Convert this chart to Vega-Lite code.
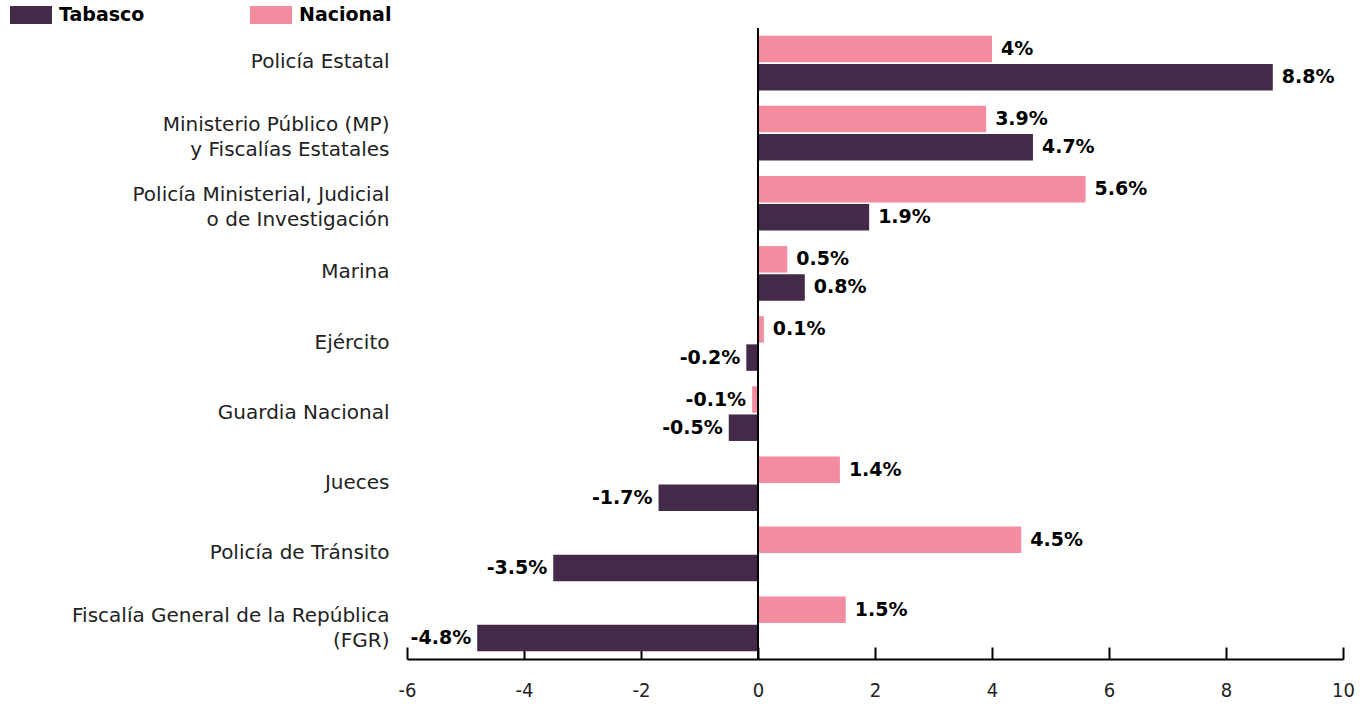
{
  "$schema": "https://vega.github.io/schema/vega-lite/v6.json",
  "width": 936,
  "height": 631,
  "autosize": {"type": "none"},
  "padding": {"left": 407, "top": 28, "right": 28, "bottom": 45},
  "background": "white",
  "config": {"view": {"stroke": null}, "font": "DejaVu Sans"},
  "data": {"values": [
    {"categoria": "Policía Estatal", "serie": "Nacional", "valor": 4},
    {"categoria": "Policía Estatal", "serie": "Tabasco", "valor": 8.8},
    {"categoria": "Ministerio Público (MP)|y Fiscalías Estatales", "serie": "Nacional", "valor": 3.9},
    {"categoria": "Ministerio Público (MP)|y Fiscalías Estatales", "serie": "Tabasco", "valor": 4.7},
    {"categoria": "Policía Ministerial, Judicial|o de Investigación", "serie": "Nacional", "valor": 5.6},
    {"categoria": "Policía Ministerial, Judicial|o de Investigación", "serie": "Tabasco", "valor": 1.9},
    {"categoria": "Marina", "serie": "Nacional", "valor": 0.5},
    {"categoria": "Marina", "serie": "Tabasco", "valor": 0.8},
    {"categoria": "Ejército", "serie": "Nacional", "valor": 0.1},
    {"categoria": "Ejército", "serie": "Tabasco", "valor": -0.2},
    {"categoria": "Guardia Nacional", "serie": "Nacional", "valor": -0.1},
    {"categoria": "Guardia Nacional", "serie": "Tabasco", "valor": -0.5},
    {"categoria": "Jueces", "serie": "Nacional", "valor": 1.4},
    {"categoria": "Jueces", "serie": "Tabasco", "valor": -1.7},
    {"categoria": "Policía de Tránsito", "serie": "Nacional", "valor": 4.5},
    {"categoria": "Policía de Tránsito", "serie": "Tabasco", "valor": -3.5},
    {"categoria": "Fiscalía General de la República|(FGR)", "serie": "Nacional", "valor": 1.5},
    {"categoria": "Fiscalía General de la República|(FGR)", "serie": "Tabasco", "valor": -4.8}
  ]},
  "transform": [{"calculate": "datum.valor + '%'", "as": "etiqueta"}],
  "layer": [
    {
      "mark": {"type": "bar"},
      "encoding": {
        "y": {"field": "categoria", "type": "nominal", "sort": null,
              "scale": {"paddingInner": 0.22, "paddingOuter": 0.11},
              "axis": {"title": null, "domain": false, "ticks": false, "labelPadding": 18,
                       "labelExpr": "split(datum.label, '|')", "labelFontSize": 20,
                       "labelColor": "#222", "labelLineHeight": 25, "labelLimit": 0,
                       "labelOffset": {"condition": {"test": "indexof(datum.value, '|') >= 0", "value": -8}, "value": -1}}},
        "yOffset": {"field": "serie", "sort": ["Nacional", "Tabasco"], "scale": {"paddingInner": 0.06}},
        "x": {"field": "valor", "type": "quantitative",
              "scale": {"domain": [-6, 10], "nice": false, "zero": false},
              "axis": {"values": [-6, -4, -2, 0, 2, 4, 6, 8, 10], "title": null, "grid": false,
                       "labelExpr": "'' + datum.value",
                       "domainColor": "black", "domainWidth": 2, "tickColor": "black", "tickWidth": 2,
                       "tickSize": -12, "labelFont": "DejaVu Sans Condensed", "labelFontWeight": 300,
                       "labelFontSize": 20, "labelColor": "#222", "labelPadding": 33, "labelFlush": false}},
        "color": {"field": "serie", "type": "nominal",
                  "scale": {"domain": ["Tabasco", "Nacional"], "range": ["#432a48", "#f48c9f"]},
                  "legend": {"orient": "none", "legendX": -397, "legendY": -34, "direction": "horizontal",
                             "title": null, "symbolType": "M-1,-0.43L1,-0.43L1,0.43L-1,0.43Z",
                             "symbolSize": 1764, "labelFontSize": 19, "labelFontWeight": "bold",
                             "labelColor": "black", "columnPadding": 105, "labelOffset": 7,
                             "symbolStrokeWidth": 0, "symbolOpacity": 1, "padding": 0}}
      }
    },
    {
      "transform": [{"filter": "datum.valor >= 0"}],
      "mark": {"type": "text", "align": "left", "dx": 9, "fontWeight": "bold", "fontSize": 19, "color": "black"},
      "encoding": {
        "y": {"field": "categoria", "type": "nominal", "sort": null},
        "yOffset": {"field": "serie", "sort": ["Nacional", "Tabasco"]},
        "x": {"field": "valor", "type": "quantitative"},
        "text": {"field": "etiqueta"}
      }
    },
    {
      "transform": [{"filter": "datum.valor < 0"}],
      "mark": {"type": "text", "align": "right", "dx": -6, "fontWeight": "bold", "fontSize": 19, "color": "black"},
      "encoding": {
        "y": {"field": "categoria", "type": "nominal", "sort": null},
        "yOffset": {"field": "serie", "sort": ["Nacional", "Tabasco"]},
        "x": {"field": "valor", "type": "quantitative"},
        "text": {"field": "etiqueta"}
      }
    },
    {
      "data": {"values": [{"valor": 0}]},
      "mark": {"type": "rule", "color": "black", "strokeWidth": 2},
      "encoding": {"x": {"field": "valor", "type": "quantitative"}}
    }
  ]
}
